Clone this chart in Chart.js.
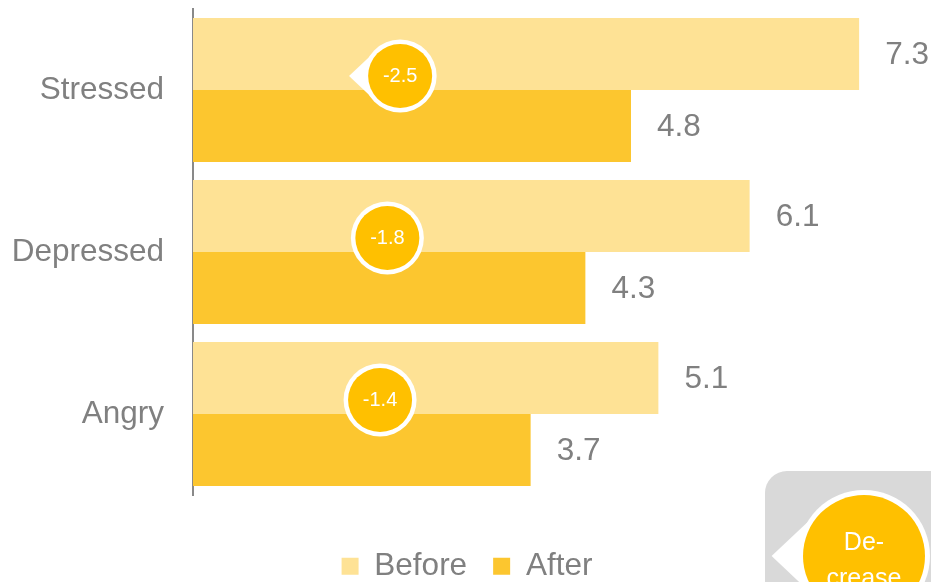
<!DOCTYPE html>
<html>
<head>
<meta charset="utf-8">
<script src="https://cdn.jsdelivr.net/npm/chart.js@4"></script>
<style>
  html, body { margin: 0; padding: 0; background: #fff; overflow: hidden; }
  #mood-chart { display: block; }
</style>
</head>
<body>
<canvas id="mood-chart" width="931" height="600"></canvas>
<script>
const categories = ['Stressed', 'Depressed', 'Angry'];
const beforeScores = [7.3, 6.1, 5.1];
const afterScores = [4.8, 4.3, 3.7];
const changes = [-2.5, -1.8, -1.4];

const FONT = "'Liberation Sans', Arial, sans-serif";
const GREY = '#808080';
const BADGE = '#FFC000';
const TEXT_SIZE = 31.5;

function drawBadge(ctx, x, y, r, ring, lines, size, lineGap, pointer) {
  ctx.save();
  ctx.fillStyle = '#fff';
  if (pointer) {
    ctx.beginPath();
    ctx.moveTo(x - r * 1.4, y);
    ctx.lineTo(x - r * 0.5, y - r * 0.85);
    ctx.lineTo(x - r * 0.5, y + r * 0.85);
    ctx.closePath();
    ctx.fill();
  }
  ctx.beginPath();
  ctx.arc(x, y, r, 0, Math.PI * 2);
  ctx.fill();
  ctx.fillStyle = BADGE;
  ctx.beginPath();
  ctx.arc(x, y, r - ring, 0, Math.PI * 2);
  ctx.fill();
  ctx.fillStyle = '#fff';
  ctx.font = `${size}px ${FONT}`;
  ctx.textAlign = 'center';
  ctx.textBaseline = 'middle';
  const shift = lines.length > 1 ? 5 : 0;
  lines.forEach((t, i) => ctx.fillText(t, x, y + shift + (i - (lines.length - 1) / 2) * lineGap));
  ctx.restore();
}

// value labels at the end of each bar, change badges, and the explanation panel
const annotations = {
  id: 'annotations',
  afterDatasetsDraw(chart) {
    const { ctx, scales: { x, y } } = chart;
    ctx.save();
    ctx.font = `${TEXT_SIZE}px ${FONT}`;
    ctx.fillStyle = GREY;
    ctx.textAlign = 'left';
    ctx.textBaseline = 'middle';
    chart.data.datasets.forEach((ds, di) => {
      chart.getDatasetMeta(di).data.forEach((bar, i) => {
        ctx.fillText(ds.data[i].toFixed(1), bar.x + 26, bar.y + 1);
      });
    });
    ctx.restore();

    changes.forEach((c, i) => {
      const cx = x.getPixelForValue(1.77 + Math.abs(c) * 0.2);
      const cy = y.getPixelForValue(i) - 14;
      drawBadge(ctx, cx, cy, 36.5, 4.5, [c.toFixed(1)], 20, 0, i === 0);
    });
  },
  afterDraw(chart) {
    const { ctx } = chart;
    ctx.save();
    ctx.fillStyle = '#D9D9D9';
    ctx.beginPath();
    ctx.roundRect(765, 471, 260, 220, 22);
    ctx.fill();
    ctx.restore();
    drawBadge(ctx, 864, 556, 66, 5, ['De-', 'crease'], 25, 36, true);
  }
};

new Chart(document.getElementById('mood-chart'), {
  type: 'bar',
  data: {
    labels: categories,
    datasets: [
      { label: 'Before', data: beforeScores, backgroundColor: '#FEE295' },
      { label: 'After', data: afterScores, backgroundColor: '#FCC62F' },
    ],
  },
  options: {
    indexAxis: 'y',
    responsive: false,
    animation: false,
    categoryPercentage: 0.89,
    barPercentage: 1,
    layout: { padding: { top: 9, right: 8, bottom: 8, left: 11 } },
    scales: {
      x: {
        min: 0,
        max: 8,
        grid: { display: false, drawTicks: false },
        border: { display: false },
        ticks: { display: false },
        afterFit(scale) { scale.height = 29.5; },
      },
      y: {
        grid: { display: false, drawTicks: false },
        border: { display: true, color: '#898989', width: 2 },
        ticks: { color: GREY, padding: 29, font: { family: FONT, size: TEXT_SIZE } },
        afterFit(scale) {
          scale.width = 182;
          scale.paddingTop = 0;
          scale.paddingBottom = 0;
        },
      },
    },
    plugins: {
      tooltip: { enabled: false },
      legend: {
        position: 'bottom',
        labels: {
          color: GREY,
          boxWidth: 17,
          boxHeight: 17,
          padding: 26,
          font: { family: FONT, size: TEXT_SIZE },
        },
      },
    },
  },
  plugins: [annotations],
});
</script>
</body>
</html>
